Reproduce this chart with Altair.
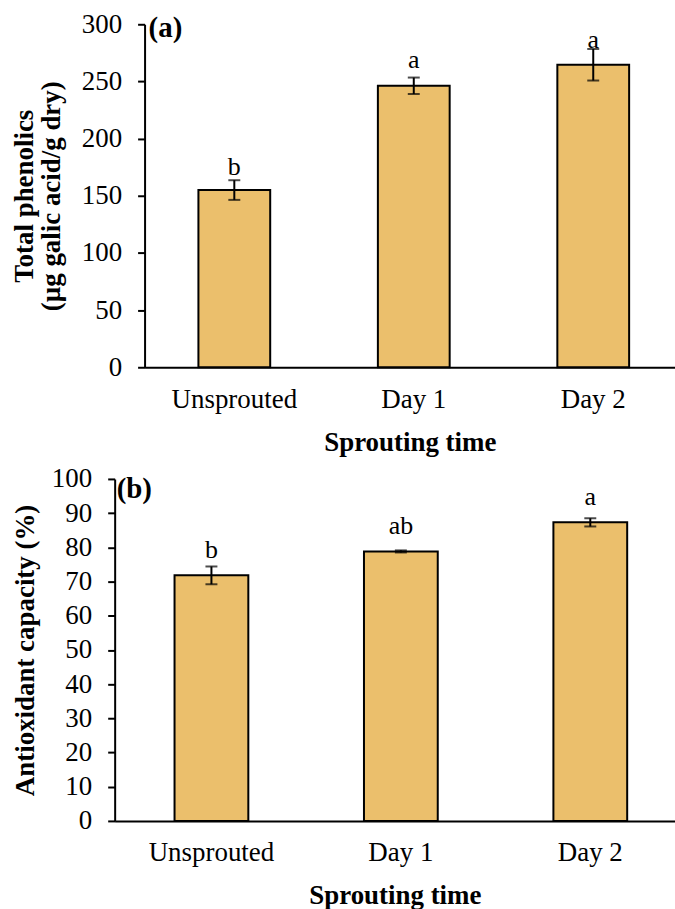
import altair as alt
import pandas as pd

categories = ["Unsprouted", "Day 1", "Day 2"]

phenolics = [155.0, 246.2, 264.6]
phenolics_err = [8.6, 7.2, 13.8]
phenolics_letters = ["b", "a", "a"]
phenolics_letter_y = [168.3, 261.4, 279.1]

antiox = [71.8, 78.8, 87.3]
antiox_err = [2.6, 0.3, 1.2]
antiox_letters = ["b", "ab", "a"]
antiox_letter_y = [76.9, 83.9, 92.4]

FONT = "Liberation Serif"
BAR = "#EBBF6C"
FS = 27


def frame(vals, errs, letters, ly):
    return pd.DataFrame({
        "cat": categories,
        "val": vals,
        "lo": [v - e for v, e in zip(vals, errs)],
        "hi": [v + e for v, e in zip(vals, errs)],
        "letter": letters,
        "ly": ly,
    })


def make_panel(df, ymax, ystep, ytitle, tag, width, height, xrange, pin, pout, palign,
               bar_size, ytitle_pad, yoffset, tag_dx, tag_y):
    def xenc():
        return alt.X(
            "cat:N", sort=categories, title="Sprouting time",
            scale=alt.Scale(range=xrange, paddingInner=pin, paddingOuter=pout, align=palign),
            axis=alt.Axis(labelAngle=0, ticks=False, labelPadding=19, titlePadding=17,
                          labelFontSize=FS, titleFontSize=FS, titleFontWeight="bold",
                          labelFont=FONT, titleFont=FONT, domainColor="black",
                          domainWidth=2, labelColor="black", titleColor="black"),
        )

    def yenc(field):
        return alt.Y(
            f"{field}:Q", title=ytitle,
            scale=alt.Scale(domain=[0, ymax], nice=False, zero=True),
            axis=alt.Axis(values=list(range(0, ymax + 1, ystep)), grid=False,
                          tickSize=7, tickWidth=2, tickColor="black",
                          domainColor="black", domainWidth=2, offset=yoffset,
                          labelFontSize=FS, titleFontSize=FS, titleFontWeight="bold",
                          labelFont=FONT, titleFont=FONT, labelColor="black",
                          titleColor="black", labelPadding=16,
                          titlePadding=ytitle_pad, titleLineHeight=27),
        )

    base = alt.Chart(df)
    bars = base.mark_bar(color=BAR, stroke="black", strokeWidth=2, size=bar_size).encode(
        x=xenc(), y=yenc("val"))
    rule = base.mark_rule(color="black", strokeWidth=2).encode(
        x=xenc(), y=yenc("lo"), y2="hi:Q")
    cap_lo = base.mark_tick(color="black", thickness=2, size=12, orient="horizontal").encode(
        x=xenc(), y=yenc("lo"))
    cap_hi = base.mark_tick(color="black", thickness=2, size=12, orient="horizontal").encode(
        x=xenc(), y=yenc("hi"))
    letters = base.mark_text(font=FONT, fontSize=26, color="black",
                             baseline="alphabetic", align="center").encode(
        x=xenc(), y=yenc("ly"), text="letter:N")
    tagc = alt.Chart(pd.DataFrame({"tag": [tag]})).mark_text(
        font=FONT, fontSize=29, fontWeight="bold", color="black",
        align="left", baseline="middle").encode(
        x=alt.value(xrange[0] + tag_dx), y=alt.value(tag_y), text="tag:N")
    return alt.layer(bars, rule, cap_lo, cap_hi, letters, tagc).properties(
        width=width, height=height)


dfa = frame(phenolics, phenolics_err, phenolics_letters, phenolics_letter_y)
dfb = frame(antiox, antiox_err, antiox_letters, antiox_letter_y)

panel_a = make_panel(dfa, 300, 50, ["Total phenolics", "(µg galic acid/g dry)"], "(a)",
                     562, 344, [30, 562], 0.6, 0.2778, 0.54, 72, 16, -30, 4, 4)
panel_b = make_panel(dfb, 100, 10, "Antioxidant capacity (%)", "(b)",
                     562, 343, [0, 562], 0.621, 0.2895, 0.555, 74, 12, 0, 2, 10)

chart = alt.vconcat(panel_a, panel_b, spacing=10).properties(
    padding={"left": 10, "top": 9, "right": 0, "bottom": 0},
    background="white",
).configure_view(stroke=None)

chart.save("out.html", embed_options={"renderer": "svg", "actions": False})
